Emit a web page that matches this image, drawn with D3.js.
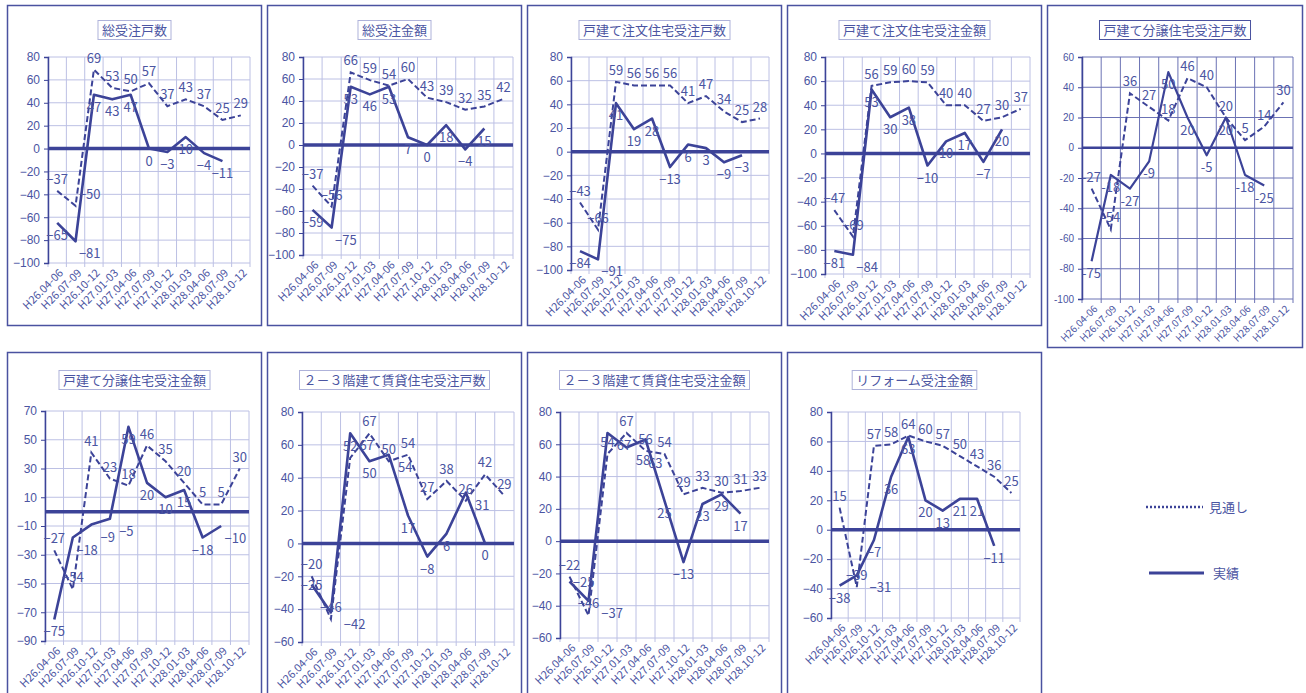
<!DOCTYPE html>
<html>
<head>
<meta charset="utf-8">
<script src="https://cdn.jsdelivr.net/npm/d3@7"></script>
<style>
  body { margin: 0; background: #fff; }
  svg { display: block; font-family: "Noto Sans CJK JP", "Noto Sans", sans-serif; }
</style>
</head>
<body>
<svg id="chart" width="1306" height="693"></svg>
<script>
// quarters (category axis)
const periods = ["H26.04-06", "H26.07-09", "H26.10-12", "H27.01-03", "H27.04-06", "H27.07-09",
                 "H27.10-12", "H28.01-03", "H28.04-06", "H28.07-09", "H28.10-12"];

// 見通し (forecast, dashed) and 実績 (actual, solid) per chart
const totalUnitsForecast   = [-37, -50, 69, 53, 50, 57, 37, 43, 37, 25, 29];
const totalUnitsActual     = [-65, -81, 47, 43, 47, 0, -3, 10, -4, -11];
const totalAmountForecast  = [-37, -56, 66, 59, 54, 60, 43, 39, 32, 35, 42];
const totalAmountActual    = [-59, -75, 53, 46, 53, 7, 0, 18, -4, 15];
const customUnitsForecast  = [-43, -66, 59, 56, 56, 56, 41, 47, 34, 25, 28];
const customUnitsActual    = [-84, -91, 41, 19, 28, -13, 6, 3, -9, -3];
const customAmountForecast = [-47, -69, 56, 59, 60, 59, 40, 40, 27, 30, 37];
const customAmountActual   = [-81, -84, 53, 30, 38, -10, 10, 17, -7, 20];
const specUnitsForecast    = [-27, -54, 36, 27, 18, 46, 40, 20, 5, 14, 30];
const specUnitsActual      = [-75, -18, -27, -9, 50, 20, -5, 20, -18, -25];
const specAmountForecast   = [-27, -54, 41, 23, 18, 46, 35, 20, 5, 5, 30];
const specAmountActual     = [-75, -18, -9, -5, 59, 20, 10, 15, -18, -10];
const rentalUnitsForecast  = [-20, -46, 52, 67, 50, 54, 27, 38, 26, 42, 29];
const rentalUnitsActual    = [-25, -42, 67, 50, 54, 17, -8, 6, 31, 0];
const rentalAmountForecast = [-22, -46, 54, 67, 56, 54, 29, 33, 30, 31, 33];
const rentalAmountActual   = [-25, -37, 67, 58, 63, 25, -13, 23, 29, 17];
const reformAmountForecast = [15, -39, 57, 58, 64, 60, 57, 50, 43, 36, 25];
const reformAmountActual   = [-38, -31, -7, 36, 63, 20, 13, 21, 21, -11];

// y tick values
const ticks80  = [-100, -80, -60, -40, -20, 0, 20, 40, 60, 80];
const ticks60  = [-100, -80, -60, -40, -20, 0, 20, 40, 60];
const ticks70  = [-90, -70, -50, -30, -10, 10, 30, 50, 70];
const ticksR80 = [-60, -40, -20, 0, 20, 40, 60, 80];

const legendLabels = ["見通し", "実績"];

const blue = "#3c4398";
const textBlue = "#4b55a2";
const grid = "#bcc0e4";

// layout: box = [x, y, w, h], plot = [left, right, top, bottom]
const panels = [
  { title: "総受注戸数", f: totalUnitsForecast, a: totalUnitsActual, ticks: ticks80,
    box: [7.5, 5.5, 254, 320], plot: [48, 250, 57, 263] },
  { title: "総受注金額", f: totalAmountForecast, a: totalAmountActual, ticks: ticks80,
    box: [267.5, 5.5, 254, 320], plot: [303, 513, 57, 255] },
  { title: "戸建て注文住宅受注戸数", f: customUnitsForecast, a: customUnitsActual, ticks: ticks80,
    box: [527.5, 5.5, 254, 320], plot: [571, 769, 57, 270] },
  { title: "戸建て注文住宅受注金額", f: customAmountForecast, a: customAmountActual, ticks: ticks80,
    box: [787.5, 5.5, 254, 320], plot: [825, 1030, 57, 274] },
  { title: "戸建て分譲住宅受注戸数", f: specUnitsForecast, a: specUnitsActual, ticks: ticks60,
    box: [1047.5, 5.5, 255, 342], plot: [1082, 1293, 57, 299], alt: true },
  { title: "戸建て分譲住宅受注金額", f: specAmountForecast, a: specAmountActual, ticks: ticks70,
    box: [7.5, 352.5, 254, 360], plot: [45, 249, 411, 641] },
  { title: "２－３階建て賃貸住宅受注戸数", f: rentalUnitsForecast, a: rentalUnitsActual, ticks: ticksR80,
    box: [267.5, 352.5, 254, 360], plot: [302, 514, 412, 642] },
  { title: "２－３階建て賃貸住宅受注金額", f: rentalAmountForecast, a: rentalAmountActual, ticks: ticksR80,
    box: [527.5, 352.5, 254, 360], plot: [560, 769, 412, 638] },
  { title: "リフォーム受注金額", f: reformAmountForecast, a: reformAmountActual, ticks: ticksR80,
    box: [787.5, 352.5, 254, 360], plot: [831, 1020, 412, 618] }
];

const svg = d3.select("#chart");

function overlapArea(a, b) {
  const w = Math.min(a.x + a.width, b.x + b.width) - Math.max(a.x, b.x);
  const h = Math.min(a.y + a.height, b.y + b.height) - Math.max(a.y, b.y);
  return w > 0 && h > 0 ? w * h : 0;
}

function drawPanel(p) {
  const [bx, by, bw, bh] = p.box;
  const [l, r, t, b] = p.plot;
  const g = svg.append("g");
  const minus = p.alt ? "-" : "\u2212";
  const fmt = v => v < 0 ? minus + Math.abs(v) : String(v);

  g.append("rect")
    .attr("x", bx).attr("y", by).attr("width", bw).attr("height", bh)
    .attr("fill", "#fff").attr("stroke", "#4a52a0").attr("stroke-width", 1.5);

  const x = d3.scaleBand().domain(periods).range([l, r]);
  const y = d3.scaleLinear().domain(d3.extent(p.ticks)).range([b, t]);
  const cx = d => x(d) + x.bandwidth() / 2;
  const gridColor = p.alt ? "#6b72b4" : grid;

  // gridlines
  g.selectAll(".hg").data(p.ticks).join("line")
    .attr("class", "hg")
    .attr("x1", l).attr("x2", r)
    .attr("y1", d => y(d)).attr("y2", d => y(d))
    .attr("stroke", gridColor).attr("stroke-width", 1);
  const bounds = periods.map(d => x(d)).concat([r]);
  g.selectAll(".vg").data(bounds).join("line")
    .attr("class", "vg")
    .attr("x1", d => d).attr("x2", d => d)
    .attr("y1", t).attr("y2", b + 4)
    .attr("stroke", gridColor).attr("stroke-width", 1);

  // y axis
  const yAxis = g.append("g")
    .attr("transform", `translate(${l},0)`)
    .call(d3.axisLeft(y).tickValues(p.ticks).tickSize(4).tickPadding(4).tickFormat(fmt));
  yAxis.select(".domain").attr("stroke", blue).attr("stroke-width", 1.5);
  yAxis.selectAll(".tick line").attr("stroke", blue);
  yAxis.selectAll("text")
    .attr("fill", textBlue)
    .style("font-size", p.alt ? "10px" : "12px");

  // x labels
  g.selectAll(".xl").data(periods).join("text")
    .attr("class", "xl")
    .attr("transform", d => `translate(${cx(d) + 4},${b + 8}) rotate(-45)`)
    .attr("text-anchor", "end")
    .attr("dy", "0.35em")
    .attr("fill", textBlue)
    .style("font-size", p.alt ? "10px" : "11px")
    .text(d => d);

  // zero line
  g.append("line")
    .attr("x1", l).attr("x2", r).attr("y1", y(0)).attr("y2", y(0))
    .attr("stroke", blue).attr("stroke-width", p.alt ? 2.5 : 3.5);

  const line = d3.line().x((d, i) => cx(periods[i])).y(d => y(d));

  g.append("path").datum(p.f)
    .attr("d", line).attr("fill", "none")
    .attr("stroke", blue).attr("stroke-width", 2)
    .attr("stroke-dasharray", "6,3");
  g.append("path").datum(p.a)
    .attr("d", line).attr("fill", "none")
    .attr("stroke", blue).attr("stroke-width", p.alt ? 2.2 : 2.6)
    .attr("stroke-linejoin", "round");

  const labelSize = "13px";
  const fLabels = g.selectAll(".fl").data(p.f).join("text")
    .attr("class", "fl")
    .attr("x", (d, i) => cx(periods[i]))
    .attr("y", d => y(d) - 7)
    .attr("text-anchor", "middle")
    .attr("fill", textBlue)
    .style("font-size", labelSize)
    .text(fmt);
  const aLabels = g.selectAll(".al").data(p.a).join("text")
    .attr("class", "al")
    .attr("x", (d, i) => cx(periods[i]))
    .attr("y", d => y(d) + 17)
    .attr("text-anchor", "middle")
    .attr("fill", textBlue)
    .style("font-size", labelSize)
    .text(fmt);

  // pick the nearby spot with the least overlap for each data label
  const moves = [[0, 0], [0.6, 0], [-0.6, 0], [1, 0], [-1, 0], [0, 1], [0, -1],
                 [0.6, 1], [-0.6, 1], [0.6, -1], [-0.6, -1]];
  const placed = yAxis.selectAll("text").nodes().map(n => n.getBBox())
    .map(bb => ({ x: bb.x + l, y: bb.y + 0, width: bb.width, height: bb.height }));
  yAxis.selectAll(".tick").each(function (d, i) {
    placed[i].y += y(d);
  });
  fLabels.nodes().concat(aLabels.nodes()).forEach(node => {
    const x0 = +node.getAttribute("x"), y0 = +node.getAttribute("y");
    const base = node.getBBox();
    let best = null;
    moves.forEach(([mx, my], k) => {
      const dx = mx * (base.width + 2), dy = my * 12;
      const bb = { x: base.x + dx, y: base.y + dy, width: base.width, height: base.height };
      let score = placed.reduce((s, o) => s + overlapArea(bb, o), 0) + k * 0.5;
      if (bb.x < bx + 2 || bb.x + bb.width > bx + bw - 2) score += 1000;
      if (!best || score < best.score) best = { score, dx, dy };
    });
    node.setAttribute("x", x0 + best.dx);
    node.setAttribute("y", y0 + best.dy);
    placed.push(node.getBBox());
  });

  // title box
  const titleY = by + (by < 100 ? 29 : 32);
  const title = g.append("text")
    .attr("x", bx + bw / 2).attr("y", titleY)
    .attr("text-anchor", "middle")
    .attr("fill", textBlue)
    .style("font-size", "13px")
    .text(p.title);
  const tw = title.node().getComputedTextLength();
  g.insert("rect", () => title.node())
    .attr("x", bx + bw / 2 - tw / 2 - 4).attr("y", titleY - 14)
    .attr("width", tw + 8).attr("height", 19)
    .attr("fill", "#fff")
    .attr("stroke", p.alt ? "#4a52a0" : "#aeb2da").attr("stroke-width", 1);
}

panels.forEach(drawPanel);

// legend
const legend = svg.append("g");
legend.append("line")
  .attr("x1", 1146).attr("x2", 1203).attr("y1", 507).attr("y2", 507)
  .attr("stroke", blue).attr("stroke-width", 2.5).attr("stroke-dasharray", "2,2");
legend.append("text")
  .attr("x", 1209).attr("y", 512)
  .attr("fill", textBlue).style("font-size", "13px")
  .text(legendLabels[0]);
legend.append("line")
  .attr("x1", 1149).attr("x2", 1204).attr("y1", 573).attr("y2", 573)
  .attr("stroke", blue).attr("stroke-width", 3);
legend.append("text")
  .attr("x", 1213).attr("y", 578)
  .attr("fill", textBlue).style("font-size", "13px")
  .text(legendLabels[1]);
</script>
</body>
</html>
